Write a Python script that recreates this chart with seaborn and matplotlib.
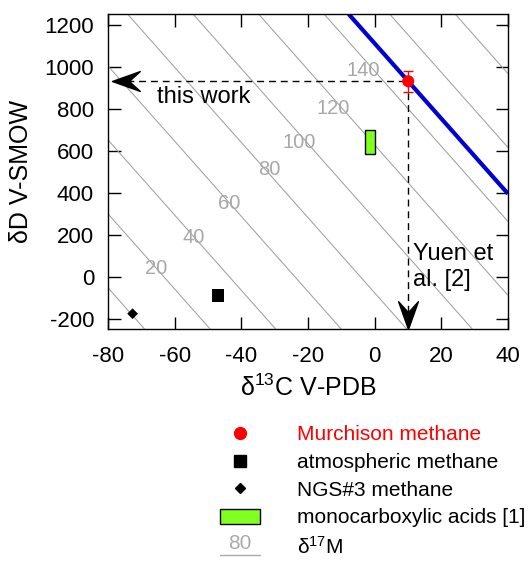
import numpy as np
import pandas as pd
import matplotlib
matplotlib.use('Agg')
import matplotlib.pyplot as plt
import seaborn as sns
from matplotlib.lines import Line2D
from matplotlib.patches import Rectangle, Patch
from matplotlib.legend_handler import HandlerBase
from matplotlib.text import Text
from matplotlib.path import Path
from matplotlib.markers import MarkerStyle

# data
samples = ['Murchison methane', 'atmospheric methane', 'NGS#3 methane']
d13c = [10.1, -47.0, -72.6]
dD = [930, -91, -177]
dD_err = 50

acid_d13c = [-3.0, 0.0]
acid_dD = [585, 697]

# d17M iso-lines (dD + slope*d13C - c0 = k*M)
iso_levels = [0, 20, 40, 60, 80, 100, 120, 140, 160, 180, 200]
iso_slope = 17.9
iso_c0 = -1485
iso_k = 17.6
label_levels = [20, 40, 60, 80, 100, 120, 140]
label_x = [-65.4, -54.2, -43.6, -31.7, -22.7, -12.4, -3.5]
label_y = [37, 184, 347, 509, 640, 800, 980]

sns.set_theme(style='ticks')
plt.rcParams['font.family'] = ['Liberation Sans', 'DejaVu Sans']
plt.rcParams['mathtext.fontset'] = 'custom'
plt.rcParams['mathtext.rm'] = 'Liberation Sans'
plt.rcParams['mathtext.it'] = 'Liberation Sans'
plt.rcParams['axes.unicode_minus'] = False
plt.rcParams['text.color'] = 'black'
plt.rcParams['axes.labelcolor'] = 'black'

fig = plt.figure(figsize=(5.29, 5.61), dpi=100)
ax = fig.add_axes([0.204, 0.4135, 0.756, 0.5615])
ax.set_xlim(-80, 40)
ax.set_ylim(-250, 1250)

gx, gy = np.meshgrid(np.linspace(-80, 40, 200), np.linspace(-250, 1250, 200))
field = (gy + iso_slope * gx - iso_c0) / iso_k
ax.contour(gx, gy, field, levels=iso_levels, colors='#a0a0a0', linewidths=0.75)
m_murch = (dD[0] + iso_slope * d13c[0] - iso_c0) / iso_k
ax.contour(gx, gy, field, levels=[m_murch], colors='#0000d0', linewidths=3)

for lv, lx, ly in zip(label_levels, label_x, label_y):
    ax.text(lx, ly, str(lv), color='#a8a8a8', fontsize=14.5, ha='center', va='center')

# dashed guides with arrow heads
left_head = Path([(0, 0), (28, 10), (17, 0), (28, -10), (0, 0)],
                 [Path.MOVETO, Path.LINETO, Path.LINETO, Path.LINETO, Path.CLOSEPOLY])
down_head = Path([(0, 0), (10, 28), (0, 17), (-10, 28), (0, 0)],
                 [Path.MOVETO, Path.LINETO, Path.LINETO, Path.LINETO, Path.CLOSEPOLY])
ax.plot([-78, d13c[0]], [dD[0], dD[0]], color='black', lw=1, dashes=(5, 3.5))
ax.plot([d13c[0], d13c[0]], [dD[0], -248], color='black', lw=1, dashes=(5, 3.5))
ax.plot([-78.9], [dD[0]], marker=MarkerStyle(left_head), ms=40, color='black', ls='')
ax.plot([d13c[0]], [-249], marker=MarkerStyle(down_head), ms=40, color='black', ls='')

ax.add_patch(Rectangle((acid_d13c[0], acid_dD[0]), acid_d13c[1] - acid_d13c[0],
                       acid_dD[1] - acid_dD[0], facecolor='#80ff20', edgecolor='black', lw=1, zorder=3))

df = pd.DataFrame({'sample': samples, 'd13C': d13c, 'dD': dD})
ax.errorbar(d13c[0], dD[0], yerr=dD_err, color='red', lw=0.9, capsize=3.6, ls='', zorder=4)
sns.scatterplot(data=df, x='d13C', y='dD', hue='sample', style='sample',
                palette={'Murchison methane': 'red', 'atmospheric methane': 'black', 'NGS#3 methane': 'black'},
                markers={'Murchison methane': 'o', 'atmospheric methane': 's', 'NGS#3 methane': 'D'},
                size='sample', sizes={'Murchison methane': 75, 'atmospheric methane': 80, 'NGS#3 methane': 30},
                linewidth=0, legend=False, ax=ax, zorder=5)

ax.text(-65.4, 855, 'this work', fontsize=17, ha='left', va='center')
ax.text(11.6, 160, 'Yuen et\nal. [2]', fontsize=17, ha='left', va='top', linespacing=1.25)

ax.set_xticks([-80, -60, -40, -20, 0, 20, 40])
ax.set_yticks([-200, 0, 200, 400, 600, 800, 1000, 1200])
ax.tick_params(direction='in', top=True, right=True, length=9, width=1, labelsize=16,
               color='black', labelcolor='black')
ax.tick_params(axis='x', pad=12)
ax.tick_params(axis='y', pad=10)
for sp in ax.spines.values():
    sp.set_color('black')
    sp.set_linewidth(1)
ax.set_xlabel('δ$^{13}$C V-PDB', fontsize=18, labelpad=6)
ax.set_ylabel('δD V-SMOW', fontsize=18, labelpad=8)


class IsoLineHandler(HandlerBase):
    def create_artists(self, legend, orig_handle, xdescent, ydescent, width, height, fontsize, trans):
        y0 = -ydescent
        line = Line2D([-xdescent, width - xdescent], [y0, y0], color='#aaaaaa', lw=1, transform=trans)
        txt = Text(width / 2 - xdescent, y0 + 1, '80', color='#aaaaaa', ha='center', va='bottom',
                   fontsize=fontsize, transform=trans)
        return [line, txt]


iso_handle = Line2D([], [], color='#aaaaaa')
handles = [Line2D([], [], marker='o', color='red', ls='', ms=8.5),
           Line2D([], [], marker='s', color='black', ls='', ms=9),
           Line2D([], [], marker='D', color='black', ls='', ms=5.5),
           Patch(facecolor='#80ff20', edgecolor='black'),
           iso_handle]
labels = samples + ['monocarboxylic acids [1]', 'δ$^{17}$M']
fig.legend(handles, labels, loc='upper left', bbox_to_anchor=(0.416, 0.242), frameon=False,
           fontsize=15, handlelength=1.9, handleheight=0.75, handletextpad=1.8, labelspacing=0.42,
           borderpad=0, borderaxespad=0,
           labelcolor=['red', 'black', 'black', 'black', 'black'],
           handler_map={iso_handle: IsoLineHandler()})

fig.savefig('out.png', dpi=100)
